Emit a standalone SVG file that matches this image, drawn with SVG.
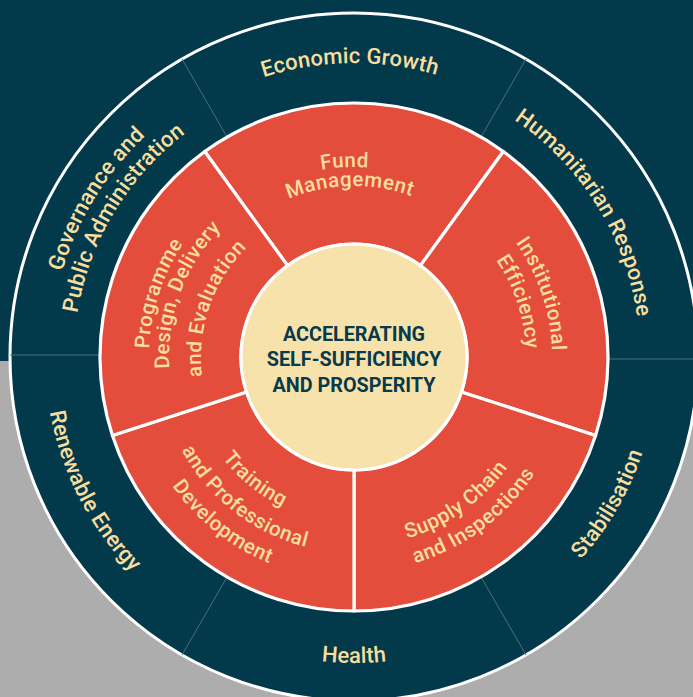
<svg xmlns="http://www.w3.org/2000/svg" xmlns:xlink="http://www.w3.org/1999/xlink" width="693" height="697" viewBox="0 0 693 697">
<style>
.lbl{font-family:Roboto,'Liberation Sans',Arial,sans-serif;font-weight:500;fill:#f7dd9e;}
.o{font-size:22px;letter-spacing:0.15px;}
.i{font-size:20.5px;letter-spacing:0.5px;}
.title{font-family:Roboto,'Liberation Sans',Arial,sans-serif;font-weight:700;font-size:19.8px;fill:#073a4b;text-anchor:middle;}
.red{fill:#e44d3b;stroke:#ffffff;stroke-width:3.2;stroke-linejoin:round;}
.div{stroke:#4d6e7b;stroke-width:1;}
</style>
<defs>
<path id="u294" d="M60,357 A294,294 0 0 1 648,357"/>
<path id="u286" d="M68,357 A286,286 0 0 1 640,357"/>
<path id="u304" d="M50,357 A304,304 0 0 1 658,357"/>
<path id="u280" d="M74,357 A280,280 0 0 1 634,357"/>
<path id="u190" d="M164,357 A190,190 0 0 1 544,357"/>
<path id="u171" d="M183,357 A171,171 0 0 1 525,357"/>
<path id="u198" d="M156,357 A198,198 0 0 1 552,357"/>
<path id="u172" d="M182,357 A172,172 0 0 1 526,357"/>
<path id="u205" d="M149,357 A205,205 0 0 1 559,357"/>
<path id="u185" d="M169,357 A185,185 0 0 1 539,357"/>
<path id="u153" d="M201,357 A153,153 0 0 1 507,357"/>
<path id="l306" d="M48,357 A306,306 0 0 0 660,357"/>
<path id="l304" d="M50,357 A304,304 0 0 0 658,357"/>
<path id="l309" d="M45,357 A309,309 0 0 0 663,357"/>
<path id="l189" d="M165,357 A189,189 0 0 0 543,357"/>
<path id="l215" d="M139,357 A215,215 0 0 0 569,357"/>
<path id="l166" d="M188,357 A166,166 0 0 0 520,357"/>
<path id="l196" d="M158,357 A196,196 0 0 0 550,357"/>
<path id="l223" d="M131,357 A223,223 0 0 0 577,357"/>
</defs>

<g id="background">
<rect x="0" y="0" width="693" height="361" fill="#033a4b"/>
<rect x="0" y="361" width="693" height="336" fill="#adadad"/>
<circle cx="354" cy="357" r="344" fill="#033a4b" stroke="#ffffff" stroke-width="3"/>
</g>

<g id="outer-ring">
<g id="economic-growth">
<text class="lbl o" transform="rotate(-0.8 354 357)"><textPath xlink:href="#u294" href="#u294" startOffset="50%" text-anchor="middle">Economic Growth</textPath></text>
</g>
<g id="humanitarian-response">
<text class="lbl o" transform="rotate(58 354 357)"><textPath xlink:href="#u286" href="#u286" startOffset="50%" text-anchor="middle">Humanitarian Response</textPath></text>
</g>
<g id="stabilisation">
<text class="lbl o" transform="rotate(-60 354 357)"><textPath xlink:href="#l304" href="#l304" startOffset="50%" text-anchor="middle">Stabilisation</textPath></text>
</g>
<g id="health">
<text class="lbl o"><textPath xlink:href="#l306" href="#l306" startOffset="50%" text-anchor="middle">Health</textPath></text>
</g>
<g id="renewable-energy">
<text class="lbl o" transform="rotate(62.8 354 357)"><textPath xlink:href="#l309" href="#l309" startOffset="50%" text-anchor="middle">Renewable Energy</textPath></text>
</g>
<g id="governance">
<text class="lbl o" transform="rotate(-58.5 354 357)"><textPath xlink:href="#u304" href="#u304" startOffset="50%" text-anchor="middle">Governance and</textPath></text>
<text class="lbl o" transform="rotate(-59 354 357)"><textPath xlink:href="#u280" href="#u280" startOffset="50%" text-anchor="middle">Public Administration</textPath></text>
</g>
</g>

<g id="connectors">
<line class="div" x1="481" y1="137" x2="526" y2="59"/>
<line class="div" x1="227" y1="137" x2="182" y2="59"/>
<line class="div" x1="608" y1="359" x2="693" y2="359"/>
<line class="div" x1="100" y1="355" x2="10" y2="355"/>
<line class="div" x1="227" y1="577" x2="182" y2="655"/>
<line class="div" x1="481" y1="577" x2="526" y2="655"/>
</g>

<g id="fund-management">
<path class="red" d="M503.30,151.51 A254,254 0 0 0 204.70,151.51 L287.58,265.58 A113,113 0 0 1 420.42,265.58 Z"/>
<text class="lbl i" transform="rotate(-2.8 354 357)"><textPath xlink:href="#u190" href="#u190" startOffset="50%" text-anchor="middle">Fund</textPath></text>
<text class="lbl i" transform="rotate(-1.4 354 357)"><textPath xlink:href="#u171" href="#u171" startOffset="50%" text-anchor="middle">Management</textPath></text>
</g>
<g id="institutional-efficiency">
<path class="red" d="M595.57,435.49 A254,254 0 0 0 503.30,151.51 L420.42,265.58 A113,113 0 0 1 461.47,391.92 Z"/>
<text class="lbl i" transform="rotate(71.5 354 357)"><textPath xlink:href="#u198" href="#u198" startOffset="50%" text-anchor="middle">Institutional</textPath></text>
<text class="lbl i" transform="rotate(71.5 354 357)"><textPath xlink:href="#u172" href="#u172" startOffset="50%" text-anchor="middle">Efficiency</textPath></text>
</g>
<g id="supply-chain">
<path class="red" d="M354,611 A254,254 0 0 0 595.57,435.49 L461.47,391.92 A113,113 0 0 1 354,470 Z"/>
<text class="lbl i" transform="rotate(-35.4 354 357)"><textPath xlink:href="#l189" href="#l189" startOffset="50%" text-anchor="middle">Supply Chain</textPath></text>
<text class="lbl i" transform="rotate(-36.9 354 357)"><textPath xlink:href="#l215" href="#l215" startOffset="50%" text-anchor="middle">and Inspections</textPath></text>
</g>
<g id="training">
<path class="red" d="M112.43,435.49 A254,254 0 0 0 354,611 L354,470 A113,113 0 0 1 246.53,391.92 Z"/>
<text class="lbl i" transform="rotate(39 354 357)"><textPath xlink:href="#l166" href="#l166" startOffset="50%" text-anchor="middle">Training</textPath></text>
<text class="lbl i" transform="rotate(37.9 354 357)"><textPath xlink:href="#l196" href="#l196" startOffset="50%" text-anchor="middle">and Professional</textPath></text>
<text class="lbl i" transform="rotate(38.5 354 357)"><textPath xlink:href="#l223" href="#l223" startOffset="50%" text-anchor="middle">Development</textPath></text>
</g>
<g id="programme-design">
<path class="red" d="M204.70,151.51 A254,254 0 0 0 112.43,435.49 L246.53,391.92 A113,113 0 0 1 287.58,265.58 Z"/>
<text class="lbl i" transform="rotate(-72 354 357)"><textPath xlink:href="#u205" href="#u205" startOffset="50%" text-anchor="middle">Programme</textPath></text>
<text class="lbl i" transform="rotate(-69.7 354 357)"><textPath xlink:href="#u185" href="#u185" startOffset="50%" text-anchor="middle">Design, Delivery</textPath></text>
<text class="lbl i" transform="rotate(-70.8 354 357)"><textPath xlink:href="#u153" href="#u153" startOffset="50%" text-anchor="middle">and Evaluation</textPath></text>
</g>

<g id="center">
<circle cx="354" cy="357" r="113" fill="#f8e2ab" stroke="#ffffff" stroke-width="3"/>
<text class="title" x="354" y="340.7">ACCELERATING</text>
<text class="title" x="354" y="366">SELF-SUFFICIENCY</text>
<text class="title" x="354" y="391.7">AND PROSPERITY</text>
</g>
</svg>
